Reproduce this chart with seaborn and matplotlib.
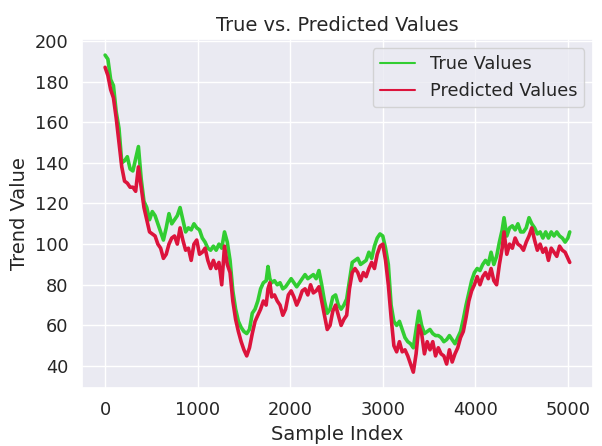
import matplotlib
matplotlib.use("Agg")
import matplotlib.pyplot as plt
import seaborn as sns
import pandas as pd

sample_index = [0, 30, 60, 90, 120, 150, 180, 210, 240, 270, 300, 330, 360, 390, 420, 450, 480, 510, 540, 570,
                600, 630, 660, 690, 720, 750, 780, 810, 840, 870, 900, 930, 960, 990, 1020, 1050, 1080, 1110, 1140, 1170,
                1200, 1230, 1260, 1290, 1320, 1350, 1380, 1410, 1440, 1470, 1500, 1530, 1560, 1590, 1620, 1650, 1680, 1710, 1740, 1760,
                1780, 1800, 1830, 1860, 1890, 1920, 1950, 1980, 2010, 2040, 2070, 2100, 2130, 2160, 2190, 2220, 2250, 2280, 2310, 2340,
                2370, 2400, 2430, 2460, 2490, 2520, 2550, 2580, 2610, 2640, 2670, 2700, 2730, 2760, 2790, 2820, 2850, 2880, 2910, 2940,
                2970, 3000, 3030, 3060, 3090, 3120, 3150, 3180, 3210, 3240, 3270, 3300, 3330, 3360, 3390, 3420, 3450, 3480, 3510, 3540,
                3570, 3600, 3630, 3660, 3690, 3720, 3750, 3780, 3810, 3840, 3870, 3900, 3930, 3960, 3990, 4020, 4050, 4080, 4110, 4140,
                4170, 4200, 4230, 4260, 4290, 4310, 4340, 4370, 4400, 4430, 4460, 4490, 4520, 4550, 4580, 4610, 4640, 4670, 4700, 4730,
                4760, 4790, 4820, 4850, 4880, 4910, 4940, 4970, 5000, 5020]

true_values = [193, 191, 181, 178, 165, 157, 140, 141, 143, 137, 136, 142, 148, 132, 121, 118, 112, 116, 114, 110,
               106, 102, 108, 115, 110, 112, 114, 118, 112, 106, 108, 107, 110, 108, 107, 103, 101, 98, 97, 99,
               97, 100, 98, 106, 101, 92, 77, 68, 62, 59, 57, 56, 58, 66, 68, 72, 78, 81, 82, 89,
               83, 81, 82, 80, 81, 78, 79, 81, 83, 81, 79, 81, 83, 85, 83, 84, 85, 83, 87, 80,
               72, 66, 68, 74, 75, 70, 68, 70, 73, 82, 91, 92, 93, 90, 91, 92, 96, 93, 99, 103,
               105, 104, 98, 90, 70, 62, 60, 62, 58, 54, 52, 51, 49, 58, 67, 60, 56, 57, 58, 56,
               55, 55, 54, 52, 53, 55, 53, 51, 54, 57, 63, 70, 76, 82, 86, 88, 87, 90, 92, 90,
               96, 90, 94, 101, 107, 113, 104, 108, 109, 107, 110, 106, 106, 108, 113, 110, 108, 105, 106, 103,
               106, 103, 106, 104, 106, 104, 103, 101, 103, 106]

predicted_values = [187, 183, 176, 172, 162, 150, 138, 131, 130, 128, 128, 126, 138, 128, 118, 112, 106, 105, 104, 100,
                    98, 93, 95, 100, 103, 104, 100, 108, 102, 97, 98, 92, 100, 102, 95, 96, 98, 92, 88, 92,
                    88, 91, 80, 99, 90, 86, 72, 63, 57, 52, 48, 45, 49, 56, 62, 65, 68, 72, 70, 78,
                    81, 74, 75, 72, 70, 65, 68, 75, 77, 74, 70, 73, 77, 78, 75, 80, 76, 77, 79, 72,
                    65, 58, 60, 67, 70, 65, 60, 63, 65, 78, 86, 88, 86, 82, 86, 84, 88, 91, 88, 95,
                    99, 100, 92, 80, 64, 50, 47, 52, 47, 48, 45, 41, 37, 46, 60, 56, 46, 52, 48, 52,
                    45, 49, 46, 45, 41, 48, 42, 46, 49, 54, 57, 64, 72, 77, 80, 84, 80, 84, 86, 83,
                    88, 82, 80, 90, 98, 106, 95, 100, 98, 103, 100, 99, 97, 101, 104, 108, 102, 97, 100, 96,
                    98, 92, 98, 96, 94, 99, 97, 96, 93, 91]

df = pd.DataFrame({"idx": sample_index, "true": true_values, "pred": predicted_values})

sns.set_theme(style="darkgrid", font_scale=1.16)
fig, ax = plt.subplots(figsize=(6.02, 4.46), dpi=100)
fig.subplots_adjust(left=0.136, right=0.985, top=0.912, bottom=0.13)

sns.lineplot(data=df, x="idx", y="true", ax=ax, color="#32CD32", linewidth=2.6, label="True Values")
sns.lineplot(data=df, x="idx", y="pred", ax=ax, color="#DC143C", linewidth=2.6, label="Predicted Values")

ax.set_title("True vs. Predicted Values")
ax.set_xlabel("Sample Index")
ax.set_ylabel("Trend Value")
ax.set_xticks([0, 1000, 2000, 3000, 4000, 5000])
ax.set_yticks([40, 60, 80, 100, 120, 140, 160, 180, 200])
leg = ax.legend(loc="upper right")
for h in leg.get_lines():
    h.set_linewidth(1.5)

fig.savefig("out.png", dpi=100)
